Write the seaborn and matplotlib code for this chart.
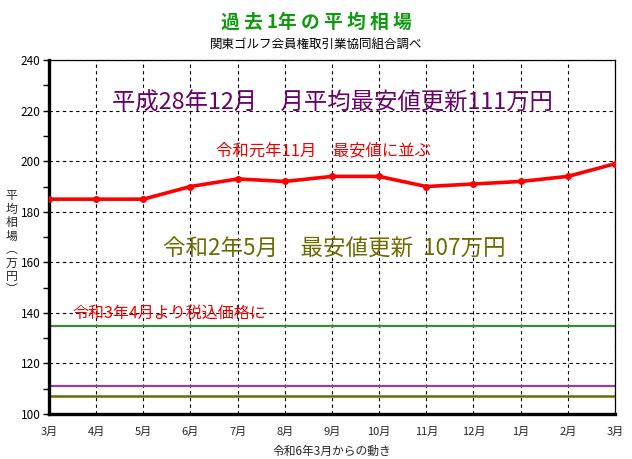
import matplotlib
matplotlib.use("Agg")
import matplotlib.pyplot as plt
import seaborn as sns
import pandas as pd
from matplotlib.ticker import MultipleLocator

months = ["3月", "4月", "5月", "6月", "7月", "8月", "9月", "10月", "11月", "12月", "1月", "2月", "3月"]
prices = [185, 185, 185, 190, 193, 192, 194, 194, 190, 191, 192, 194, 199]
ref_tax = 135
ref_h28 = 111
ref_r2 = 107
ylabel_chars = ["平", "均", "相", "場", "︵", "万", "円", "︶"]

sns.set_theme(style="white")
plt.rcParams['font.family'] = ['Noto Sans CJK JP', 'DejaVu Sans']

fig = plt.figure(figsize=(6.32, 4.59), dpi=100)
ax = fig.add_axes([0.0775, 0.098, 0.8955, 0.771])

df = pd.DataFrame({"x": list(range(len(months))), "price": prices})

ax.axhline(ref_tax, color="#3a8a3a", lw=1.6, zorder=2)
ax.axhline(ref_h28, color="#9a3d9a", lw=1.6, zorder=2)
ax.axhline(ref_r2, color="#6b6b00", lw=1.8, zorder=2)

sns.lineplot(data=df, x="x", y="price", ax=ax, color="#ff0000", lw=2.6,
             marker="o", markersize=5, markeredgewidth=0, zorder=5)

ax.set_xlim(0, len(months) - 1)
ax.set_ylim(100, 240)
ax.set_xticks(range(len(months)))
ax.set_xticklabels(months, fontsize=8)
ax.yaxis.set_major_locator(MultipleLocator(20))
ax.yaxis.set_minor_locator(MultipleLocator(10))
ax.tick_params(axis="y", which="both", left=True, direction="out", length=4, width=1, labelsize=8.5, pad=2, colors="black")
ax.tick_params(axis="x", bottom=False, pad=3, labelsize=8)
ax.grid(True, which="major", color="black", linestyle=(0, (3, 3)), lw=0.8)

for s in ["top", "right"]:
    ax.spines[s].set_color("black")
    ax.spines[s].set_linewidth(0.9)
for s in ["left", "bottom"]:
    ax.spines[s].set_color("black")
    ax.spines[s].set_linewidth(2.4)

ax.set_xlabel("令和6年3月からの動き", fontsize=8.5, labelpad=6)
ax.set_ylabel("")

y0 = 1 - 196 / 459
step = 13.4 / 459
for i, ch in enumerate(ylabel_chars):
    fig.text(0.018, y0 - i * step, ch, fontsize=8.5, ha="center", va="center", rotation=0)

fig.text(0.5, 0.952, "過 去 1年 の 平 均 相 場", fontsize=13.5, fontweight="bold", color="#119a11", ha="center", va="center")
fig.text(0.5, 0.903, "関東ゴルフ会員権取引業協同組合調べ", fontsize=9, color="black", ha="center", va="center")

ax.text(6.0, 223, "平成28年12月　月平均最安値更新111万円", fontsize=16.8, color="#6a006a", ha="center", va="center", zorder=6)
ax.text(5.82, 204.3, "令和元年11月　最安値に並ぶ", fontsize=11.8, color="#ee0000", ha="center", va="center", zorder=6)
ax.text(6.04, 165, "令和2年5月　最安値更新  107万円", fontsize=16.2, color="#6b6b00", ha="center", va="center", zorder=6)
ax.text(0.5, 140, "令和3年4月より税込価格に", fontsize=11.5, color="#ee0000", ha="left", va="center", zorder=6)

fig.savefig("out.png", dpi=100)
